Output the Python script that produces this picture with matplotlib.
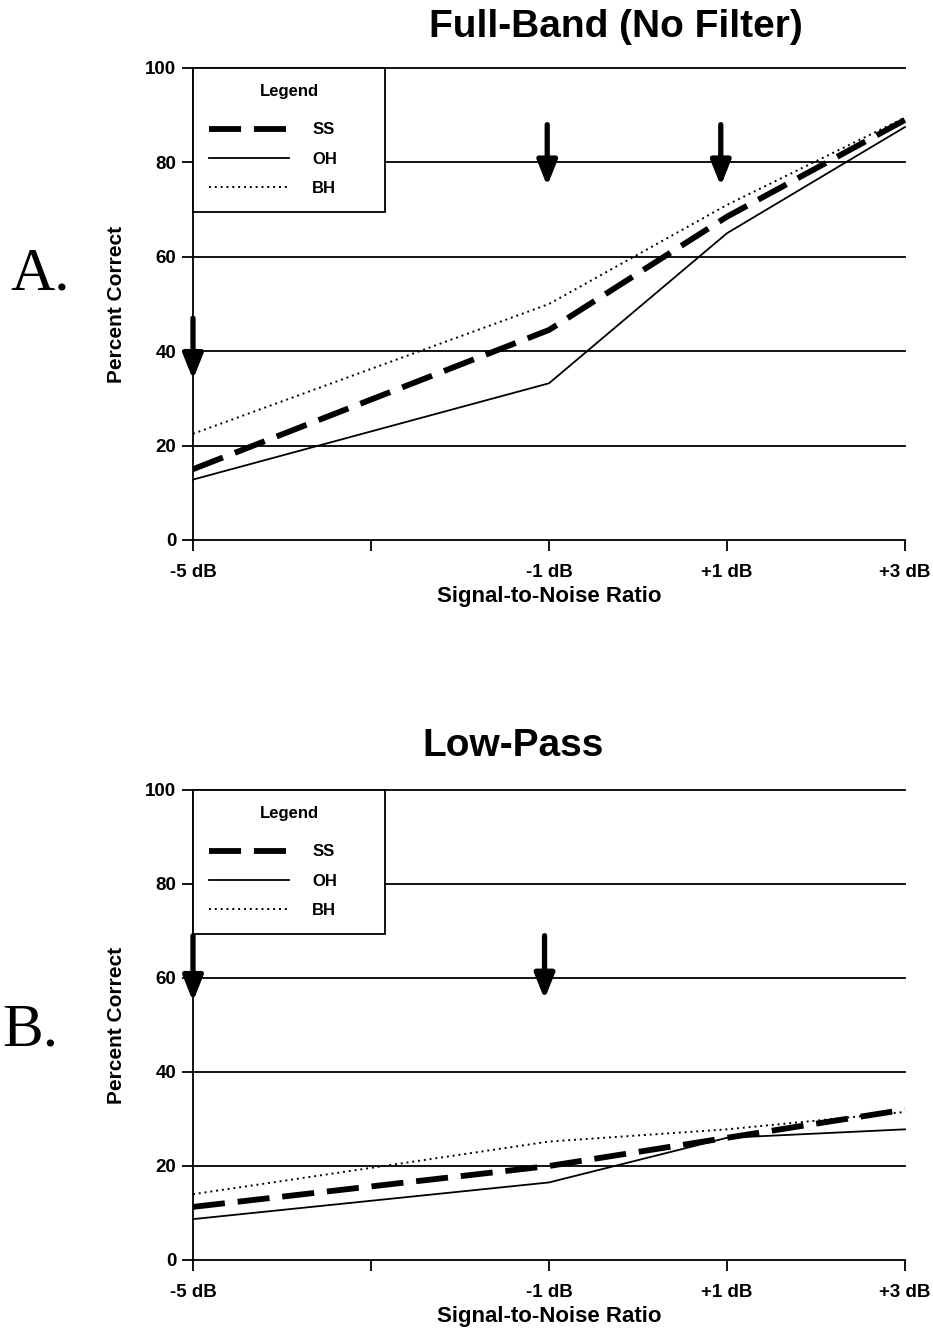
import numpy as np
import matplotlib
matplotlib.use('Agg')
import matplotlib.pyplot as plt

plt.rcParams['font.family'] = 'Liberation Sans'
plt.rcParams['font.weight'] = 'bold'

snr = [-5, -1, 1, 3]
tick_pos = [-5, -3, -1, 1, 3]
tick_lbl = ['-5 dB', '', '-1 dB', '+1 dB', '+3 dB']

# panel A: full band
a_ss = [15, 44.5, 68.5, 89]
a_oh = [12.8, 33.2, 65, 87.5]
a_bh = [22.5, 50, 71, 89.5]
a_arrows = [(-5, 47, 34), (-1.02, 88, 75), (0.93, 88, 75)]

# panel B: low pass
b_ss = [11.3, 20, 26, 32]
b_oh = [8.7, 16.5, 26, 27.8]
b_bh = [14, 25.2, 27.8, 31.5]
b_arrows = [(-5, 69, 55), (-1.05, 69, 55.5)]

panels = [
    dict(rect=[193/933, 1-540/1337, 712/933, 472/1337], ss=a_ss, oh=a_oh, bh=a_bh,
         arrows=a_arrows, title='Full-Band (No Filter)', tpos=(616/933, 1-27/1337),
         letter='A.', lpos=(40/933, 1-275/1337)),
    dict(rect=[193/933, 1-1260/1337, 712/933, 470/1337], ss=b_ss, oh=b_oh, bh=b_bh,
         arrows=b_arrows, title='Low-Pass', tpos=(513/933, 1-746/1337),
         letter='B.', lpos=(30/933, 1-1031/1337)),
]

fig = plt.figure(figsize=(9.33, 13.37), dpi=100)

for p in panels:
    ax = fig.add_axes(p['rect'])
    ax.set_xlim(-5, 3)
    ax.set_ylim(0, 100)
    for s in ['top', 'right']:
        ax.spines[s].set_visible(False)
    for s in ['left', 'bottom']:
        ax.spines[s].set_linewidth(1.3)
    for g in [20, 40, 60, 80, 100]:
        ax.axhline(g, color='black', lw=1.3, zorder=1, clip_on=False)

    l1, = ax.plot(snr, p['ss'], color='black', lw=4.2, dashes=(5.5, 2.2), clip_on=False, zorder=3)
    l2, = ax.plot(snr, p['oh'], color='black', lw=1.3, clip_on=False, zorder=3)
    l3, = ax.plot(snr, p['bh'], color='black', lw=1.4, dashes=(1, 2.0), clip_on=False, zorder=3)

    for x, y0, y1 in p['arrows']:
        ax.annotate('', xy=(x, y1), xytext=(x, y0), annotation_clip=False,
                    arrowprops=dict(arrowstyle='-|>,head_length=0.75,head_width=0.3',
                                    lw=3.8, color='black', mutation_scale=20,
                                    shrinkA=0, shrinkB=0), zorder=4)

    ax.set_xticks(tick_pos)
    ax.set_xticklabels(tick_lbl)
    ax.set_yticks([0, 20, 40, 60, 80, 100])
    ax.tick_params(axis='both', direction='out', length=8, width=1.3, labelsize=13.5, pad=4)
    ax.tick_params(axis='x', pad=9)
    for t in ax.get_xticklabels() + ax.get_yticklabels():
        t.set_fontweight('bold')

    ax.set_xlabel('Signal-to-Noise Ratio', fontsize=16, fontweight='bold', labelpad=4)
    ax.set_ylabel('Percent Correct', fontsize=15, fontweight='bold')
    ax.yaxis.set_label_coords(-0.094, 0.5)

    leg = ax.legend([l1, l2, l3], ['SS', 'OH', 'BH'], title='Legend', loc='upper left',
                    bbox_to_anchor=(0, 0, 192/712, 1), mode='expand', borderaxespad=0,
                    fancybox=False, frameon=True, edgecolor='black', framealpha=1,
                    handlelength=4.8, handletextpad=1.4, borderpad=0.95, labelspacing=0.85,
                    prop={'weight': 'bold', 'size': 12}, title_fontsize=12)
    leg._legend_box.sep = 17
    leg.get_frame().set_linewidth(1.3)
    leg.get_title().set_fontweight('bold')
    leg.set_zorder(5)

    fig.text(p['tpos'][0], p['tpos'][1], p['title'], ha='center', va='center',
             fontsize=28, fontweight='bold')
    fig.text(p['lpos'][0], p['lpos'][1], p['letter'], ha='center', va='center',
             fontsize=44, family='Liberation Serif', fontweight='normal')

fig.savefig('out.png', dpi=100)
